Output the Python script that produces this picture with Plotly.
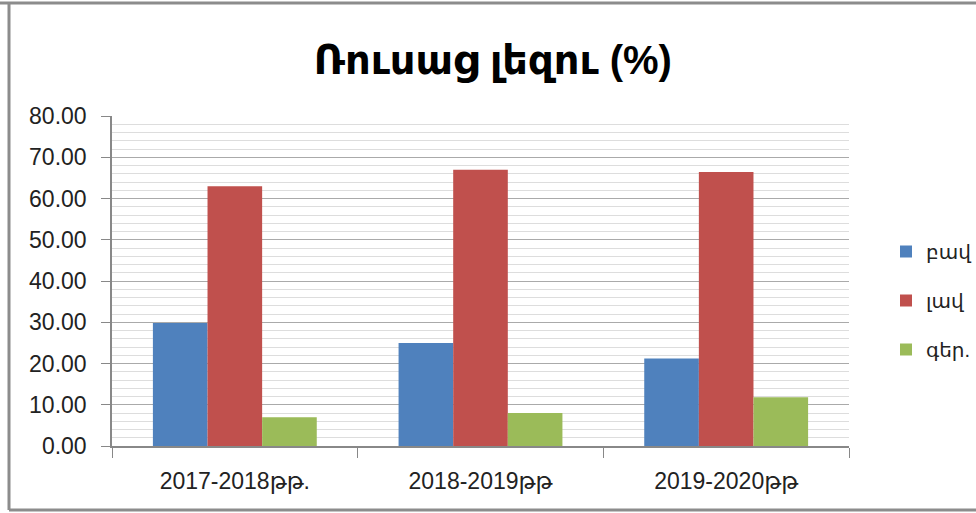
import plotly.graph_objects as go

years = ["2017-2018թթ.", "2018-2019թթ", "2019-2020թթ"]
series_names = ["բավ", "լավ", "գեր."]
bav = [29.8, 25.0, 21.2]
lav = [63.0, 67.0, 66.4]
ger = [7.0, 8.0, 11.8]
colors = ["#4F81BD", "#C0504D", "#9BBB59"]

FONT = "Liberation Sans, DejaVu Sans, sans-serif"

fig = go.Figure()
for name, vals, col in zip(series_names, [bav, lav, ger], colors):
    fig.add_trace(go.Bar(x=years, y=vals, name=name, marker_color=col,
                         marker_line_width=0, legendgroup=name))

# plot area geometry in pixels (for the outer frame)
W, H = 976, 513
L, R, T, B = 112, 127, 116, 67
pw, ph = W - L - R, H - T - B


def px(x):
    return (x - L) / pw


def py(y):
    return (H - B - y) / ph


frame = dict(color="#8c8c8c", width=3)
fig.add_shape(type="line", xref="paper", yref="paper", x0=px(0), x1=px(W), y0=py(3), y1=py(3), line=frame)
fig.add_shape(type="line", xref="paper", yref="paper", x0=px(9), x1=px(9), y0=py(3), y1=py(510), line=frame)
fig.add_shape(type="line", xref="paper", yref="paper", x0=px(9), x1=px(W), y0=py(510), y1=py(510), line=frame)

fig.update_layout(
    width=W, height=H,
    margin=dict(l=L, r=R, t=T, b=B, autoexpand=False),
    paper_bgcolor="white", plot_bgcolor="white",
    barmode="group", bargap=0.333, bargroupgap=0,
    title=dict(text="<b>Ռուսաց լեզու (%)</b>", x=0.505, xanchor="center",
               y=1 - 60 / H, yanchor="middle",
               font=dict(family=FONT, size=40, color="black")),
    font=dict(family=FONT, size=20, color="#222222"),
    legend=dict(x=px(886), y=py(232), xanchor="left", yanchor="top",
                font=dict(size=20, color="#222222"), tracegroupgap=20,
                itemwidth=30, traceorder="grouped"),
    showlegend=True,
)

fig.update_yaxes(range=[0, 80], dtick=10, tickformat=".2f",
                 showgrid=True, gridcolor="#aaaaaa", gridwidth=1.2,
                 minor=dict(dtick=2, showgrid=True, gridcolor="#dddddd", gridwidth=1),
                 ticks="outside", ticklen=9, tickcolor="#888888",
                 showline=True, linecolor="#888888", linewidth=1.5,
                 ticklabelstandoff=10, zeroline=False,
                 tickfont=dict(size=23, color="#222222"))
fig.update_xaxes(showline=True, linecolor="#888888", linewidth=1.5,
                 ticks="outside", ticklen=10, tickcolor="#888888",
                 tickson="boundaries", ticklabelstandoff=14,
                 tickfont=dict(size=23, color="#222222"))

fig.write_html("out.html", config={"displayModeBar": False},
               post_script="document.body.style.margin='0';")
